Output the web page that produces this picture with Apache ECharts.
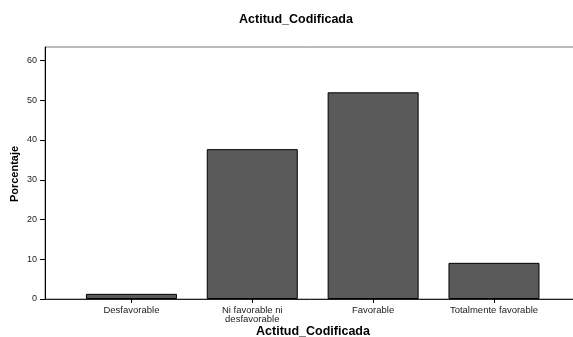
<!DOCTYPE html>
<html><head><meta charset="utf-8">
<script src="https://cdn.jsdelivr.net/npm/echarts@6/dist/echarts.min.js"></script>
<style>html,body{margin:0;padding:0;background:#fff}#c{width:573px;height:337px}</style>
</head><body><div id="c"></div>
<script>
const categories = ['Desfavorable', 'Ni favorable ni\ndesfavorable', 'Favorable', 'Totalmente favorable'];
const porcentaje = [1.3, 37.7, 52.0, 9.1];
const yTicks = [0, 10, 20, 30, 40, 50, 60];
const yMax = 63.4;
const chartTitle = 'Actitud_Codificada';
const xName = 'Actitud_Codificada';
const yName = 'Porcentaje';

const chart = echarts.init(document.getElementById('c'), null, {renderer: 'canvas'});
const font = 'Liberation Sans, Arial, sans-serif';
chart.setOption({
  animation: false,
  backgroundColor: '#fff',
  title: [
    {
      text: chartTitle, left: 291, top: 7, textAlign: 'center',
      textStyle: {fontFamily: font, fontSize: 12.5, fontWeight: 'bold', color: '#000', lineHeight: 16}
    },
    {
      text: xName, left: 313, top: 324, textAlign: 'center', padding: 0,
      textStyle: {fontFamily: font, fontSize: 12.5, fontWeight: 'bold', color: '#000', lineHeight: 16}
    }
  ],
  graphic: [{
    type: 'text', x: 15, y: 174, rotation: Math.PI / 2,
    style: {text: yName, fontFamily: font, fontSize: 11, fontWeight: 'bold', fill: '#000', align: 'center', verticalAlign: 'middle'}
  }],
  grid: [
    {left: 71, right: 18.6, top: 47, bottom: 38, containLabel: false, outerBoundsMode: 'none'},
    {left: 45, right: -3, top: 47, bottom: 38, containLabel: false, outerBoundsMode: 'none', show: true, borderColor: '#777', borderWidth: 1, backgroundColor: 'transparent', z: 0}
  ],
  xAxis: [
    {
      type: 'category', gridIndex: 0, data: categories,
      axisLine: {show: false},
      axisTick: {show: true, alignWithLabel: true, length: 4, lineStyle: {color: '#000'}},
      axisLabel: {fontFamily: font, fontSize: 9.5, color: '#222', margin: 7, lineHeight: 9, interval: 0}
    },
    {
      type: 'value', gridIndex: 1, show: true, min: 0, max: 1,
      axisLine: {show: true, onZero: false, lineStyle: {color: '#222', width: 1}},
      axisTick: {show: false}, axisLabel: {show: false}, splitLine: {show: false}
    }
  ],
  yAxis: [
    {
      type: 'value', gridIndex: 0, min: 0, max: yMax, interval: 10, offset: 26,
      axisLine: {show: true, lineStyle: {color: '#000', width: 1}},
      axisTick: {show: true, length: 5, customValues: yTicks, lineStyle: {color: '#000'}},
      axisLabel: {fontFamily: font, fontSize: 9, color: '#222', margin: 8, customValues: yTicks},
      splitLine: {show: false}
    },
    {
      type: 'value', gridIndex: 1, min: 0, max: 1, show: false
    }
  ],
  series: [{
    type: 'bar', xAxisIndex: 0, yAxisIndex: 0, data: porcentaje,
    barWidth: 91,
    itemStyle: {color: '#5a5a5a', borderColor: '#000', borderWidth: 1},
    z: 3
  }]
});
</script></body></html>
